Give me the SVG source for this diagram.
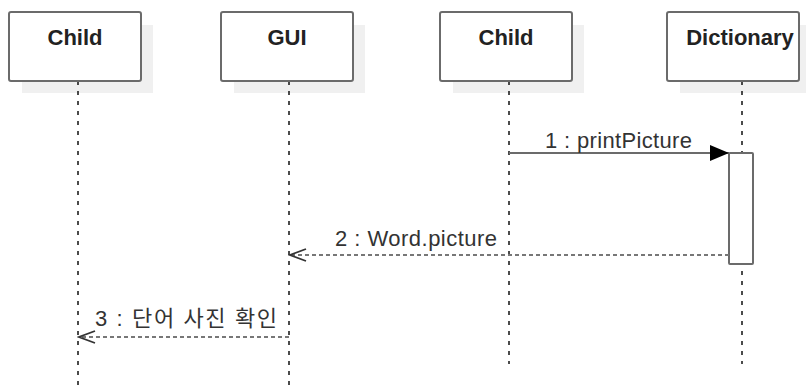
<svg xmlns="http://www.w3.org/2000/svg" width="806" height="385" viewBox="0 0 806 385">
<defs>
<style>
.shadow{fill:#f0f0f0;stroke:none}
.box{fill:#fff;stroke:#6b6b6b;stroke-width:2}
.title{font-family:"Liberation Sans",Arial,sans-serif;font-weight:bold;font-size:22px;fill:#222;text-anchor:middle}
.life{stroke:#111;stroke-width:1.5;stroke-dasharray:4,6;fill:none}
.msg{stroke:#6b6b6b;stroke-width:2;fill:none}
.ret{stroke:#777;stroke-width:2.2;stroke-dasharray:4,3;fill:none}
.lbl{font-family:"Liberation Sans",Arial,"Noto Sans CJK KR",sans-serif;font-size:22px;fill:#333}
.act{fill:#fff;stroke:#6b6b6b;stroke-width:2}
</style>
<marker id="filled" markerWidth="20" markerHeight="18" refX="19" refY="8" orient="auto" markerUnits="userSpaceOnUse">
<path d="M0,0 L19,8 L0,16 Z" fill="#000"/>
</marker>
<marker id="open" markerWidth="20" markerHeight="18" refX="18" refY="8" orient="auto" markerUnits="userSpaceOnUse">
<path d="M2,2 L18,8 L2,14" fill="none" stroke="#333" stroke-width="1.8"/>
</marker>
</defs>
<g id="node-child1">
<rect class="shadow" x="22" y="25" width="131" height="68"/>
<line class="life" x1="78" y1="81" x2="78" y2="385"/>
<rect class="box" x="9" y="12" width="132" height="69" rx="2"/>
<text class="title" x="75" y="45">Child</text>
</g>
<g id="node-gui">
<rect class="shadow" x="234" y="25" width="131" height="68"/>
<line class="life" x1="289" y1="81" x2="289" y2="385"/>
<rect class="box" x="221" y="12" width="132" height="69" rx="2"/>
<text class="title" x="287" y="45">GUI</text>
</g>
<g id="node-child2">
<rect class="shadow" x="453" y="25" width="131" height="68"/>
<line class="life" x1="509" y1="81" x2="509" y2="364"/>
<rect class="box" x="440" y="12" width="132" height="69" rx="2"/>
<text class="title" x="506" y="45">Child</text>
</g>
<g id="node-dictionary">
<rect class="shadow" x="680" y="25" width="131" height="68"/>
<line class="life" x1="742" y1="81" x2="742" y2="364"/>
<rect class="box" x="667" y="12" width="132" height="69" rx="2"/>
<text class="title" x="740" y="45">Dictionary</text>
<rect class="act" x="729" y="153" width="24" height="111" rx="1"/>
</g>
<g id="connectors">
<line class="msg" x1="509" y1="153" x2="729" y2="153" marker-end="url(#filled)"/>
<text class="lbl" x="545" y="148" textLength="147" lengthAdjust="spacing">1 : printPicture</text>
<line class="ret" x1="729" y1="255" x2="290" y2="255" marker-end="url(#open)"/>
<text class="lbl" x="335" y="246" textLength="162" lengthAdjust="spacing">2 : Word.picture</text>
<line class="ret" x1="289" y1="337" x2="79" y2="337" marker-end="url(#open)"/>
<text class="lbl" x="95" y="326" textLength="182" lengthAdjust="spacing">3 : 단어 사진 확인</text>
</g>
</svg>
